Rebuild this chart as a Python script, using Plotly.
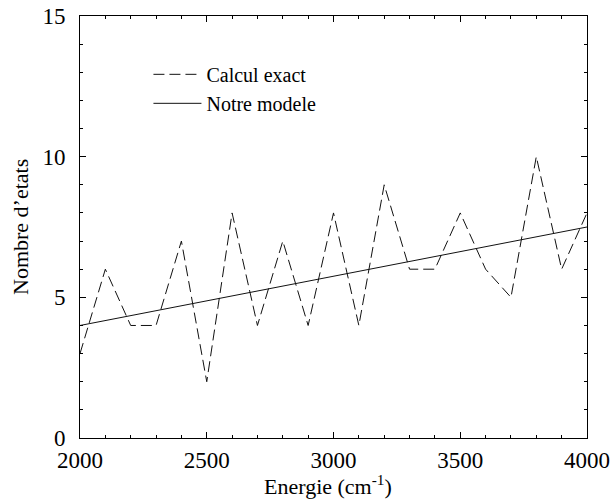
import plotly.graph_objects as go

energie = [2000, 2100, 2200, 2300, 2400, 2500, 2600, 2700, 2800, 2900, 3000,
           3100, 3200, 3300, 3400, 3500, 3600, 3700, 3800, 3900, 4000]
calcul_exact = [3, 6, 4, 4, 7, 2, 8, 4, 7, 4, 8, 4, 9, 6, 6, 8, 6, 5, 10, 6, 8]
modele_x = [2000, 4000]
modele_y = [4, 7.5]

fig = go.Figure()
fig.add_trace(go.Scatter(x=energie, y=calcul_exact, mode="lines", name="Calcul exact",
                         line=dict(color="#111111", width=1, dash="11px,5px")))
fig.add_trace(go.Scatter(x=modele_x, y=modele_y, mode="lines", name="Notre modele",
                         line=dict(color="#111111", width=1)))

FAM = "'Liberation Serif', 'Times New Roman', Times, serif"
font = dict(family=FAM, color="black")
axis_common = dict(showgrid=False, zeroline=False, showline=True, linecolor="black",
                   linewidth=1, mirror="ticks", ticks="inside", ticklen=6,
                   tickcolor="black", tickwidth=1, automargin=False,
                   tickfont=dict(size=23, family=FAM, color="black"))
fig.update_xaxes(range=[2000, 4000], tickvals=[2000, 2500, 3000, 3500, 4000],
                 minor=dict(dtick=100, ticks="inside", ticklen=3, tickcolor="black"),
                 ticklabelstandoff=1,
                 **axis_common)
fig.update_yaxes(range=[0, 15], tickvals=[0, 5, 10, 15],
                 minor=dict(dtick=1, ticks="inside", ticklen=3, tickcolor="black"),
                 ticklabelstandoff=9,
                 **axis_common)
fig.add_annotation(text="Energie (cm<sup>-1</sup>)", xref="paper", yref="paper",
                   x=0.49, y=0, yshift=-47, xanchor="center", yanchor="middle",
                   showarrow=False, font=dict(size=22, family=FAM, color="black"))
fig.add_annotation(text="Nombre d’etats", xref="paper", yref="paper",
                   x=0, y=0.5, xshift=-60, xanchor="center", yanchor="middle",
                   textangle=-90, showarrow=False,
                   font=dict(size=22, family=FAM, color="black"))
fig.update_layout(width=611, height=504, margin=dict(l=80, r=24, t=16, b=66),
                  plot_bgcolor="white", paper_bgcolor="white", font=font,
                  legend=dict(x=0.135, y=0.908, xanchor="left", yanchor="top",
                              bgcolor="rgba(0,0,0,0)",
                              font=dict(size=20, family=FAM, color="black"),
                              tracegroupgap=0, itemwidth=48))
fig.write_html("out.html")
